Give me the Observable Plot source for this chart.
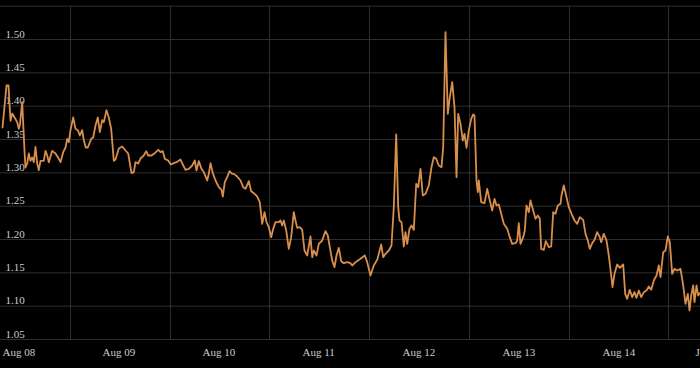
<!DOCTYPE html>
<html>
<head>
<meta charset="utf-8">
<script src="https://cdn.jsdelivr.net/npm/d3@7"></script>
<script src="https://cdn.jsdelivr.net/npm/@observablehq/plot@0.6"></script>
<style>
  html, body { margin: 0; padding: 0; background: #000; }
  #chart svg { display: block; }
</style>
</head>
<body>
<div id="chart"></div>
<script>
// time position in years since "Aug 08"
const t = [
  0.0,0.04,0.06,0.08,0.097,0.12,0.147,0.163,0.175,0.197,0.22,0.23,0.247,0.263,0.28,0.297,0.313,0.33,0.347,0.363,
  0.38,0.413,0.43,0.447,0.463,0.497,0.53,0.563,0.58,0.607,0.63,0.647,0.663,0.68,0.707,0.73,0.753,0.773,0.797,0.813,
  0.833,0.853,0.887,0.907,0.93,0.953,0.973,0.997,1.013,1.04,1.063,1.087,1.113,1.13,1.163,1.197,1.23,1.257,1.29,1.313,
  1.33,1.357,1.38,1.413,1.437,1.457,1.49,1.523,1.557,1.58,1.603,1.623,1.657,1.683,1.713,1.74,1.78,1.803,1.83,1.863,
  1.897,1.923,1.94,1.963,1.99,2.013,2.047,2.063,2.08,2.103,2.13,2.163,2.19,2.203,2.223,2.247,2.27,2.297,2.313,2.347,
  2.38,2.407,2.43,2.463,2.487,2.513,2.547,2.573,2.597,2.62,2.64,2.663,2.687,2.707,2.73,2.763,2.78,2.797,2.813,2.837,
  2.863,2.887,2.913,2.93,2.947,2.973,2.997,3.02,3.047,3.08,3.097,3.113,3.14,3.163,3.197,3.23,3.253,3.273,3.297,3.32,
  3.34,3.363,3.387,3.413,3.447,3.48,3.497,3.53,3.58,3.623,3.647,3.68,3.713,3.747,3.763,3.787,3.807,3.83,3.863,3.89,
  3.913,3.937,3.957,3.97,3.99,4.013,4.03,4.047,4.07,4.09,4.113,4.137,4.157,4.18,4.203,4.23,4.263,4.29,4.313,4.337,
  4.363,4.39,4.407,4.43,4.453,4.473,4.497,4.52,4.54,4.557,4.58,4.603,4.62,4.64,4.663,4.687,4.707,4.72,4.74,4.753,
  4.763,4.787,4.82,4.847,4.873,4.897,4.92,4.94,4.963,4.987,5.013,5.047,5.073,5.097,5.13,5.147,5.163,5.18,5.207,5.223,
  5.24,5.263,5.28,5.307,5.33,5.353,5.373,5.387,5.413,5.433,5.463,5.487,5.507,5.53,5.553,5.58,5.59,5.613,5.64,5.663,
  5.697,5.72,5.747,5.773,5.807,5.83,5.853,5.873,5.897,5.92,5.947,5.973,5.987,6.013,6.04,6.063,6.087,6.10,6.12,6.147,
  6.173,6.207,6.227,6.247,6.273,6.297,6.32,6.34,6.363,6.387,6.413,6.44,6.463,6.487,6.513,6.54,6.563,6.58,6.607,6.63,
  6.653,6.673,6.697,6.72,6.747,6.78,6.807,6.83,6.853,6.87,6.887,6.907,6.92,6.94,6.957,6.973,6.98
];
const values = [
  1.368,1.431,1.431,1.378,1.389,1.383,1.376,1.366,1.373,1.406,1.333,1.308,1.314,1.329,1.318,1.323,1.316,1.339,1.314,1.304,
  1.318,1.318,1.333,1.326,1.316,1.333,1.329,1.321,1.316,1.331,1.338,1.351,1.346,1.364,1.383,1.366,1.364,1.356,1.364,1.349,
  1.338,1.338,1.351,1.353,1.371,1.383,1.361,1.379,1.376,1.394,1.383,1.366,1.318,1.320,1.3365,1.3395,1.3335,1.329,1.2995,1.301,
  1.316,1.314,1.3215,1.326,1.3325,1.326,1.326,1.3295,1.3345,1.331,1.3325,1.321,1.3185,1.3125,1.3145,1.316,1.320,1.3125,1.3045,1.306,
  1.311,1.3185,1.3035,1.3175,1.306,1.301,1.2885,1.2985,1.3145,1.2995,1.2885,1.2785,1.2745,1.2645,1.286,1.2935,1.3025,1.2985,1.2985,1.2945,
  1.2885,1.2785,1.276,1.2875,1.2725,1.2695,1.2645,1.256,1.2235,1.241,1.226,1.2185,1.2035,1.216,1.226,1.226,1.2285,1.221,1.2285,1.2135,
  1.186,1.2035,1.241,1.2285,1.2175,1.2185,1.2145,1.1835,1.176,1.2045,1.1735,1.1835,1.176,1.1935,1.1985,1.2125,1.206,1.1885,1.1685,1.1585,
  1.176,1.1875,1.1675,1.1645,1.166,1.1645,1.161,1.166,1.171,1.176,1.166,1.146,1.161,1.1695,1.1785,1.1925,1.1735,1.1785,1.1835,1.191,
  1.2485,1.3575,1.2485,1.2285,1.226,1.1895,1.211,1.1935,1.216,1.221,1.2145,1.2835,1.2785,1.306,1.266,1.2685,1.281,1.3085,1.3235,1.321,
  1.311,1.3085,1.3385,1.511,1.3885,1.4135,1.436,1.3985,1.2935,1.3885,1.3735,1.3485,1.3585,1.3375,1.3635,1.381,1.3875,1.386,1.2885,1.271,
  1.2885,1.256,1.2545,1.276,1.2585,1.2435,1.261,1.251,1.2525,1.2385,1.2235,1.216,1.2035,1.1935,1.1945,1.1985,1.2245,1.1935,1.2035,1.2135,
  1.251,1.241,1.2585,1.2435,1.231,1.236,1.231,1.186,1.1845,1.1975,1.1885,1.1895,1.241,1.2385,1.251,1.2535,1.266,1.281,1.2635,1.2485,
  1.236,1.2285,1.2235,1.2335,1.2295,1.2085,1.1985,1.186,1.1945,1.1995,1.211,1.2035,1.196,1.2085,1.1985,1.176,1.146,1.1285,1.1485,1.1625,
  1.1575,1.1625,1.1185,1.111,1.1245,1.1135,1.121,1.1125,1.1235,1.1135,1.121,1.1235,1.1295,1.1245,1.1385,1.146,1.161,1.1435,1.181,1.1835,
  1.2045,1.196,1.1485,1.156,1.1535,1.156,1.131,1.1035,1.1185,1.0935,1.116,1.131,1.106,1.131,1.116,1.1195,1.12
];
const yTicks = [1.05, 1.10, 1.15, 1.20, 1.25, 1.30, 1.35, 1.40, 1.45, 1.50];
const yGrid = [1.05, 1.10, 1.15, 1.20, 1.25, 1.30, 1.35, 1.40, 1.45, 1.50, 1.55];
const xTickLabels = ["Aug 08", "Aug 09", "Aug 10", "Aug 11", "Aug 12", "Aug 13", "Aug 14", "J"];
const xTickPos = [0, 1, 2, 3, 4, 5, 6, 6.93];
const xGrid = [0.68, 1.68, 2.67, 3.67, 4.67, 5.67, 6.66];

const data = t.map((d, i) => ({t: d, v: values[i]}));
const xLabels = xTickLabels.map((s, i) => ({label: s, t: xTickPos[i]}));

const font = "'Liberation Serif', 'DejaVu Serif', serif";
const chart = Plot.plot({
  width: 700,
  height: 368,
  marginLeft: 0,
  marginRight: 0,
  marginTop: 5.67,
  marginBottom: 29,
  style: {background: "#000", color: "#cccccc", fontFamily: font},
  x: {type: "linear", domain: [-0.02, 6.98], axis: null},
  y: {domain: [1.05, 1.55], axis: null},
  marks: [
    Plot.ruleY(yGrid, {stroke: "#2e2e2e", strokeWidth: 1}),
    Plot.ruleX(xGrid, {y1: 1.05, y2: 1.55, stroke: "#2e2e2e", strokeWidth: 1}),
    Plot.text(yTicks, {x: -0.02, y: d => d, text: d => d.toFixed(2), textAnchor: "start", lineAnchor: "bottom", dx: 5, dy: -2, fill: "#cccccc", fontSize: 11, fontFamily: font}),
    Plot.text(xLabels, {x: "t", y: 1.05, text: "label", textAnchor: "start", lineAnchor: "bottom", dy: 16.5, fill: "#cccccc", fontSize: 11, fontFamily: font}),
    Plot.line(data, {x: "t", y: "v", stroke: "#d98f4c", strokeWidth: 1.8, strokeLinejoin: "round"})
  ]
});
document.getElementById("chart").appendChild(chart);
</script>
</body>
</html>
